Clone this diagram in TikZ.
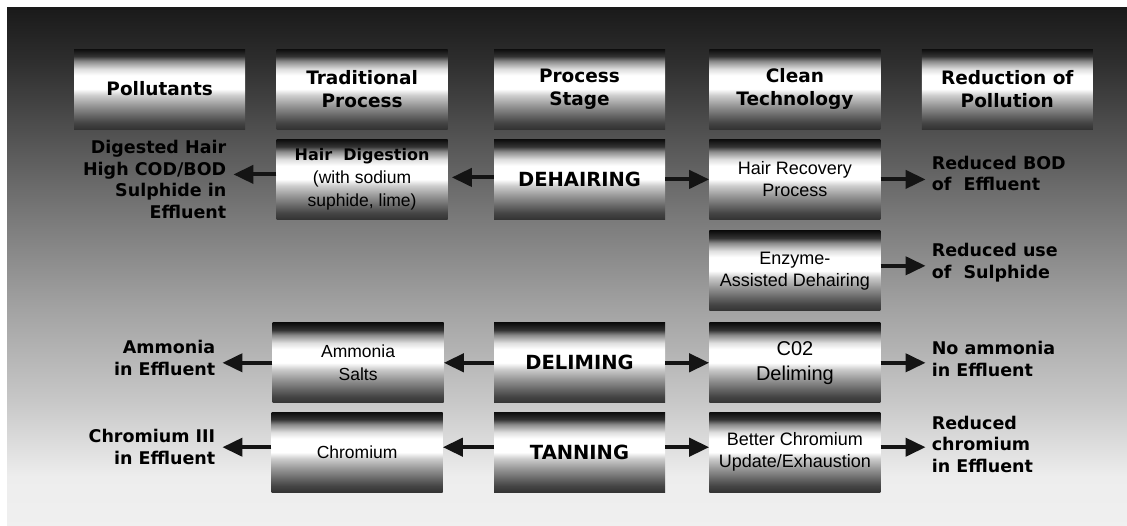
\documentclass[tikz,border=0pt]{standalone}
\usepackage{fontspec}
\setmainfont{Liberation Sans}
\newfontfamily\heavyfont[BoldFont={DejaVu Sans Bold}]{DejaVu Sans}
\usetikzlibrary{positioning,arrows.meta}
\pgfdeclareverticalshading{bgfade}{100bp}{color(0bp)=(black!6); color(25bp)=(black!6); color(29.7bp)=(black!7); color(36.5bp)=(black!21); color(46.3bp)=(black!37); color(56.1bp)=(black!55); color(69.8bp)=(black!82); color(75bp)=(black!90); color(100bp)=(black!90)}
\pgfdeclareverticalshading{metal}{100bp}{color(0bp)=(black!80); color(25bp)=(black!80); color(29bp)=(black!73); color(33.5bp)=(black!60); color(40bp)=(black!40); color(46bp)=(black!20); color(50bp)=(white); color(58.5bp)=(white); color(62.5bp)=(black!13); color(67.5bp)=(black!47); color(70.5bp)=(black!80); color(75bp)=(black!95); color(100bp)=(black!95)}
\tikzset{
  metalbox/.style={rectangle, shade, shading=metal, minimum width=171pt, minimum height=80pt, inner sep=2pt, align=center},
  headbox/.style={metalbox, font=\heavyfont\bfseries\fontsize{18.5}{23}\selectfont},
  stagebox/.style={metalbox, font=\heavyfont\bfseries\fontsize{19.5}{24}\selectfont},
  techbox/.style={metalbox, font=\fontsize{18}{22}\selectfont},
  tradbox/.style={metalbox, font=\fontsize{17.5}{23}\selectfont},
  effect/.style={inner sep=0pt, font=\heavyfont\bfseries\fontsize{17.5}{21.5}\selectfont},
  flow/.style={line width=4pt, black!92, -{Triangle[length=20pt,width=18pt]}}
}
\begin{document}
\begin{tikzpicture}[x=1pt,y=-1pt]
  \useasboundingbox (0,0) rectangle (1127,525);
  \fill[white] (0,0) rectangle (1127,525);
  \shade[shading=bgfade] (7,7) rectangle (1127,525);

  % column heads
  \node [headbox] (pstage) at (579.5,89) {Process\\Stage};
  \node [headbox,left=46pt of pstage] (trad) {Traditional\\Process};
  \node [headbox,left=31pt of trad] (pollut) {Pollutants};
  \node [headbox,right=44pt of pstage] (clean) {Clean\\Technology};
  \node [headbox,right=41pt of clean] (reduc) {Reduction of\\Pollution};

  % dehairing
  \node [stagebox,below=10pt of pstage] (dehair) {DEHAIRING};
  \node [tradbox,left=46pt of dehair] (digest) {{\heavyfont\bfseries\fontsize{16}{22}\selectfont Hair\ \ Digestion}\\(with sodium\\suphide, lime)};
  \node [techbox,right=44pt of dehair] (recov) {Hair Recovery\\Process};
  \node [techbox,below=11pt of recov] (enzyme) {Enzyme-\\Assisted Dehairing};

  % deliming and tanning
  \node [stagebox,below=103pt of dehair] (delime) {DELIMING};
  \node [tradbox,left=50pt of delime] (ammsalt) {Ammonia\\Salts};
  \node [techbox,right=44pt of delime,font=\fontsize{20}{25}\selectfont] (co2) {C02\\Deliming};
  \node [stagebox,below=9pt of delime] (tan) {TANNING};
  \node [tradbox,left=51pt of tan] (chrom) {Chromium};
  \node [techbox,right=44pt of tan] (better) {Better Chromium\\Update/Exhaustion};

  % pollutants and reductions
  \node [effect,align=right,left=50pt of digest] (hairout) {Digested Hair\\High COD/BOD\\Sulphide in\\Effluent};
  \node [effect,align=right,left=57pt of ammsalt,yshift=5pt] (ammout) {Ammonia\\in Effluent};
  \node [effect,align=right,left=56pt of chrom,yshift=5pt] (chromout) {Chromium III\\in Effluent};
  \node [effect,align=left,right=51pt of recov,yshift=6pt] (bodout) {Reduced BOD\\of\ \ Effluent};
  \node [effect,align=left,right=51pt of enzyme,yshift=8pt] (sulout) {Reduced use\\of\ \ Sulphide};
  \node [effect,align=left,right=51pt of co2,yshift=4pt] (nh3out) {No ammonia\\in Effluent};
  \node [effect,align=left,right=51pt of better,yshift=8pt] (crout) {Reduced\\chromium\\in Effluent};

  \draw [flow,shorten >=7pt] ([yshift=5pt]digest.west) -- ([yshift=5pt]digest.west -| hairout.east);
  \draw [flow,shorten >=4pt] ([yshift=2pt]dehair.west) -- ([yshift=2pt]dehair.west -| digest.east);
  \draw [flow] (dehair.east) -- (recov.west);
  \draw [flow,shorten >=6pt] (recov.east) -- (recov.east -| bodout.west);
  \draw [flow,shorten >=6pt] ([yshift=5pt]enzyme.east) -- ([yshift=5pt]enzyme.east -| sulout.west);
  \draw [flow,shorten >=7pt] (ammsalt.west) -- (ammsalt.west -| ammout.east);
  \draw [flow] (delime.west) -- (ammsalt.east);
  \draw [flow] (delime.east) -- (co2.west);
  \draw [flow,shorten >=6pt] (co2.east) -- (co2.east -| nh3out.west);
  \draw [flow,shorten >=7pt] ([yshift=5pt]chrom.west) -- ([yshift=5pt]chrom.west -| chromout.east);
  \draw [flow] ([yshift=5pt]tan.west) -- ([yshift=5pt]chrom.east);
  \draw [flow] ([yshift=5pt]tan.east) -- ([yshift=5pt]better.west);
  \draw [flow,shorten >=6pt] ([yshift=5pt]better.east) -- ([yshift=5pt]better.east -| crout.west);
\end{tikzpicture}
\end{document}
